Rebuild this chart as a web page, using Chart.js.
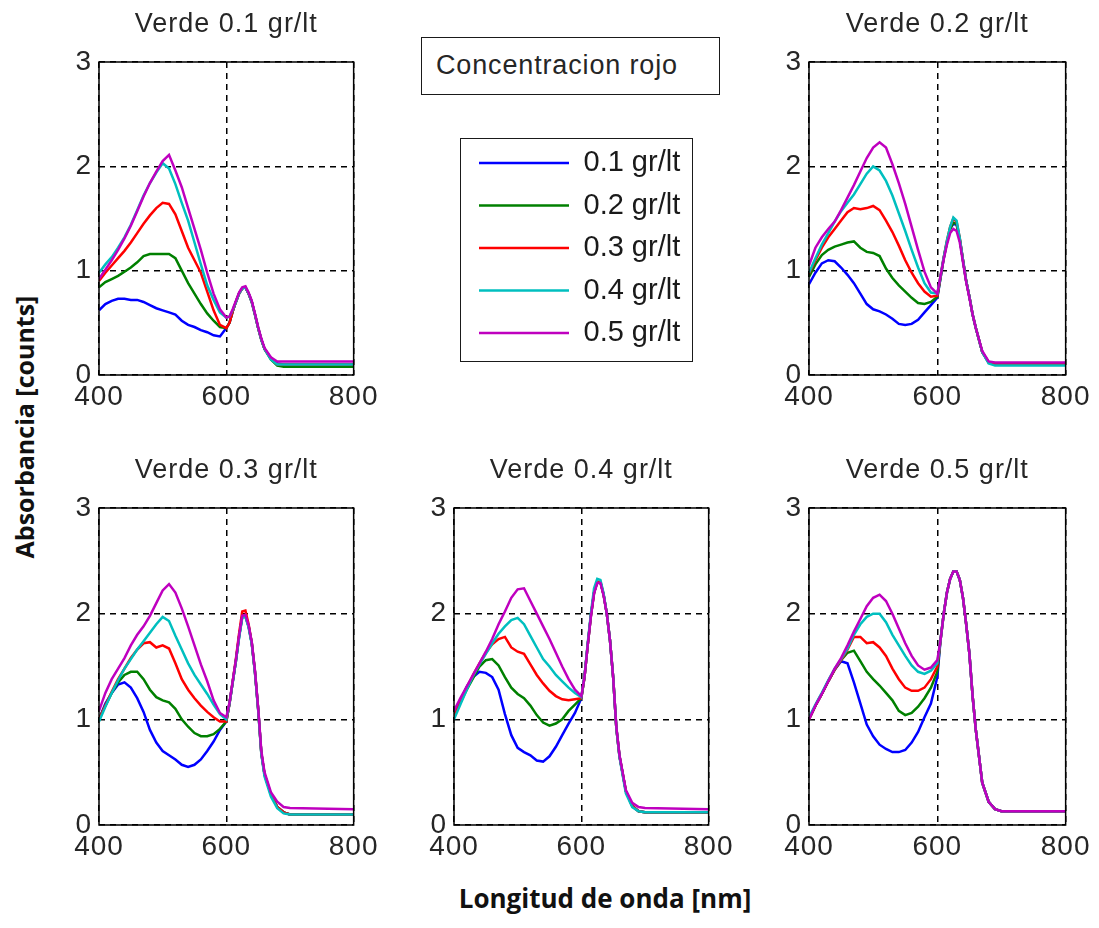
<!DOCTYPE html>
<html>
<head>
<meta charset="utf-8">
<title>Absorbancia verde / rojo</title>
<script src="https://cdn.jsdelivr.net/npm/chart.js@4.4.1/dist/chart.umd.min.js"></script>
<style>
  body { margin: 0; background: #fff; width: 1099px; height: 928px; position: relative; overflow: hidden; }
  canvas { position: absolute; }
  .frame { position: absolute; box-sizing: border-box; border: 1.5px solid #1a1a1a; }
  #boxTitle { left: 421px; top: 37px; width: 299px; height: 58px; padding-left: 14px;
    font: 27px "Liberation Sans", Arial, sans-serif; letter-spacing: 0.85px; color: #262626; line-height: 55px; }
  #legendFrame { left: 460px; top: 138px; width: 233px; height: 224px; }
  .axisLabel { position: absolute; font: bold 26px "Open Sans", sans-serif; color: #111; white-space: nowrap; }
  #xLabel { left: 605px; top: 898px; transform: translate(-50%, -50%); }
  #yLabel { left: 24px; top: 427px; transform: translate(-50%, -50%) rotate(-90deg); font-size: 25px; }
</style>
</head>
<body>
<canvas id="verde1" width="328" height="415" style="left:54px;top:0px"></canvas>
<canvas id="verde2" width="330" height="415" style="left:764px;top:0px"></canvas>
<canvas id="verde3" width="328" height="419" style="left:54px;top:446px"></canvas>
<canvas id="verde4" width="328" height="419" style="left:409px;top:446px"></canvas>
<canvas id="verde5" width="330" height="419" style="left:764px;top:446px"></canvas>
<div id="boxTitle" class="frame">Concentracion rojo</div>
<div id="legendFrame" class="frame"></div>
<canvas id="leyenda" width="233" height="240" style="left:460px;top:135px"></canvas>
<div id="yLabel" class="axisLabel">Absorbancia [counts]</div>
<div id="xLabel" class="axisLabel">Longitud de onda [nm]</div>

<script>
// wavelength samples [nm]
const wavelengths = [400, 410, 420, 430, 440, 450, 460, 470, 480, 490, 500, 510, 520, 530, 540, 550, 560, 570, 580, 590, 600,
  605, 610, 615, 620, 625, 630, 635, 640, 645, 650, 655, 660, 670, 680, 690, 700, 800];

const rojoLabels = ['0.1 gr/lt', '0.2 gr/lt', '0.3 gr/lt', '0.4 gr/lt', '0.5 gr/lt'];
const rojoColors = ['#0000ff', '#008000', '#ff0000', '#00bfbf', '#bf00bf'];
const panelTitles = ['Verde 0.1 gr/lt', 'Verde 0.2 gr/lt', 'Verde 0.3 gr/lt', 'Verde 0.4 gr/lt', 'Verde 0.5 gr/lt'];

// absorbance per red concentration (rows 0.1 .. 0.5 gr/lt), one array per green concentration
const verde01 = [
  [.62, .68, .71, .73, .73, .72, .72, .70, .67, .64, .62, .60, .58, .52, .48, .46, .43, .41, .38, .37, .45,
    .50, .61, .70, .78, .83, .84, .78, .70, .58, .45, .34, .25, .16, .11, .10, .10, .10],
  [.84, .89, .92, .95, .99, 1.03, 1.08, 1.14, 1.16, 1.16, 1.16, 1.16, 1.12, 1.00, .88, .78, .68, .59, .52, .46, .45,
    .50, .61, .70, .78, .83, .84, .78, .70, .58, .45, .34, .25, .15, .09, .08, .08, .08],
  [.90, .98, 1.05, 1.12, 1.19, 1.27, 1.36, 1.45, 1.53, 1.60, 1.65, 1.64, 1.54, 1.38, 1.22, 1.10, .98, .80, .62, .48, .45,
    .50, .61, .70, .78, .83, .84, .78, .70, .58, .45, .34, .25, .16, .10, .10, .10, .10],
  [.98, 1.06, 1.13, 1.22, 1.32, 1.44, 1.58, 1.72, 1.84, 1.94, 2.03, 1.98, 1.83, 1.65, 1.48, 1.27, 1.06, .86, .72, .60, .55,
    .56, .62, .70, .78, .83, .84, .78, .70, .58, .45, .34, .25, .15, .10, .10, .10, .10],
  [.92, 1.01, 1.10, 1.20, 1.31, 1.43, 1.57, 1.71, 1.84, 1.95, 2.05, 2.11, 1.96, 1.80, 1.60, 1.40, 1.20, .98, .78, .63, .55,
    .56, .63, .71, .79, .84, .85, .79, .71, .59, .46, .35, .26, .17, .13, .13, .13, .13]
];

const verde02 = [
  [.87, .98, 1.07, 1.10, 1.09, 1.03, .96, .88, .78, .68, .63, .61, .58, .54, .49, .48, .49, .53, .60, .67, .74,
    .93, 1.12, 1.27, 1.40, 1.45, 1.44, 1.30, 1.10, .90, .75, .58, .45, .22, .12, .10, .10, .10],
  [.94, 1.06, 1.15, 1.20, 1.23, 1.25, 1.27, 1.28, 1.22, 1.18, 1.17, 1.14, 1.02, .93, .86, .80, .74, .69, .68, .70, .75,
    .93, 1.12, 1.27, 1.40, 1.46, 1.45, 1.30, 1.10, .90, .75, .58, .45, .22, .12, .10, .10, .10],
  [.97, 1.10, 1.22, 1.32, 1.40, 1.48, 1.56, 1.60, 1.59, 1.60, 1.62, 1.58, 1.48, 1.37, 1.24, 1.10, .98, .88, .80, .75, .76,
    .95, 1.13, 1.29, 1.42, 1.50, 1.47, 1.31, 1.10, .90, .75, .58, .45, .22, .12, .10, .10, .10],
  [.98, 1.12, 1.25, 1.36, 1.47, 1.57, 1.65, 1.73, 1.83, 1.93, 2.00, 1.96, 1.86, 1.72, 1.55, 1.38, 1.20, 1.03, .88, .79, .78,
    .95, 1.13, 1.29, 1.42, 1.51, 1.48, 1.31, 1.10, .90, .75, .58, .45, .22, .11, .09, .09, .09],
  [1.05, 1.22, 1.32, 1.40, 1.47, 1.58, 1.70, 1.82, 1.95, 2.08, 2.18, 2.23, 2.18, 2.02, 1.84, 1.64, 1.42, 1.20, .99, .84, .78,
    .95, 1.11, 1.25, 1.36, 1.40, 1.38, 1.27, 1.08, .89, .74, .58, .45, .23, .13, .12, .12, .12]
];

const verde03 = [
  [1.00, 1.15, 1.25, 1.33, 1.35, 1.30, 1.20, 1.07, .90, .78, .70, .66, .62, .57, .55, .57, .62, .70, .79, .90, .98,
    1.15, 1.35, 1.55, 1.78, 1.97, 1.98, 1.88, 1.72, 1.45, 1.10, .68, .48, .29, .17, .12, .10, .10],
  [1.00, 1.13, 1.25, 1.35, 1.42, 1.45, 1.45, 1.38, 1.28, 1.21, 1.18, 1.16, 1.10, 1.00, .93, .87, .84, .84, .86, .91, .98,
    1.15, 1.35, 1.55, 1.78, 1.97, 1.98, 1.88, 1.72, 1.45, 1.10, .68, .48, .29, .17, .12, .10, .10],
  [1.00, 1.13, 1.26, 1.38, 1.48, 1.58, 1.66, 1.72, 1.73, 1.68, 1.70, 1.67, 1.53, 1.38, 1.28, 1.20, 1.13, 1.07, 1.02, .98, .98,
    1.15, 1.36, 1.57, 1.81, 2.02, 2.03, 1.90, 1.72, 1.45, 1.10, .68, .48, .29, .17, .12, .10, .10],
  [.98, 1.12, 1.25, 1.37, 1.48, 1.57, 1.66, 1.74, 1.82, 1.90, 1.97, 1.93, 1.79, 1.66, 1.53, 1.42, 1.33, 1.24, 1.14, 1.05, 1.00,
    1.15, 1.35, 1.55, 1.77, 1.96, 1.97, 1.87, 1.71, 1.44, 1.09, .67, .46, .27, .16, .11, .10, .10],
  [1.08, 1.25, 1.38, 1.48, 1.58, 1.70, 1.80, 1.88, 1.98, 2.10, 2.22, 2.28, 2.20, 2.05, 1.88, 1.70, 1.52, 1.36, 1.18, 1.06, 1.02,
    1.16, 1.36, 1.56, 1.79, 1.98, 1.99, 1.89, 1.73, 1.46, 1.11, .70, .50, .31, .22, .17, .16, .15]
];

const verde04 = [
  [1.03, 1.18, 1.31, 1.40, 1.45, 1.44, 1.40, 1.28, 1.05, .85, .73, .69, .66, .61, .60, .65, .74, .85, .96, 1.06, 1.20,
    1.40, 1.70, 1.98, 2.20, 2.30, 2.30, 2.18, 2.00, 1.75, 1.40, .92, .65, .32, .18, .13, .12, .12],
  [1.03, 1.16, 1.28, 1.39, 1.50, 1.56, 1.57, 1.51, 1.40, 1.30, 1.24, 1.20, 1.13, 1.04, .97, .94, .96, 1.00, 1.08, 1.14, 1.20,
    1.40, 1.70, 1.98, 2.20, 2.30, 2.30, 2.18, 2.00, 1.75, 1.40, .92, .65, .32, .18, .13, .12, .12],
  [1.03, 1.16, 1.30, 1.42, 1.53, 1.63, 1.71, 1.76, 1.78, 1.68, 1.64, 1.62, 1.52, 1.42, 1.34, 1.27, 1.22, 1.19, 1.18, 1.19, 1.20,
    1.40, 1.70, 1.98, 2.20, 2.30, 2.30, 2.18, 2.00, 1.75, 1.40, .92, .65, .32, .18, .13, .12, .12],
  [1.00, 1.14, 1.28, 1.41, 1.52, 1.62, 1.72, 1.81, 1.88, 1.94, 1.96, 1.90, 1.79, 1.68, 1.57, 1.50, 1.42, 1.36, 1.30, 1.25, 1.21,
    1.41, 1.72, 2.00, 2.24, 2.33, 2.32, 2.19, 2.00, 1.75, 1.40, .92, .64, .30, .17, .13, .12, .12],
  [1.08, 1.20, 1.31, 1.42, 1.53, 1.64, 1.76, 1.90, 2.02, 2.15, 2.23, 2.24, 2.12, 2.00, 1.88, 1.76, 1.63, 1.50, 1.38, 1.28, 1.22,
    1.40, 1.70, 1.97, 2.19, 2.29, 2.29, 2.17, 2.00, 1.75, 1.40, .93, .66, .33, .21, .17, .16, .15]
];

const verde05 = [
  [1.00, 1.13, 1.24, 1.36, 1.47, 1.55, 1.53, 1.35, 1.15, .95, .84, .76, .72, .69, .69, .71, .78, .88, 1.02, 1.15, 1.40,
    1.75, 2.00, 2.20, 2.33, 2.40, 2.40, 2.32, 2.15, 1.90, 1.62, 1.22, .90, .40, .22, .15, .13, .13],
  [1.00, 1.13, 1.24, 1.36, 1.47, 1.56, 1.63, 1.65, 1.55, 1.45, 1.38, 1.32, 1.25, 1.18, 1.08, 1.04, 1.06, 1.12, 1.20, 1.30, 1.45,
    1.75, 2.00, 2.20, 2.33, 2.40, 2.40, 2.32, 2.15, 1.90, 1.62, 1.22, .90, .40, .22, .15, .13, .13],
  [1.00, 1.13, 1.24, 1.36, 1.47, 1.56, 1.66, 1.78, 1.78, 1.72, 1.73, 1.68, 1.60, 1.48, 1.38, 1.30, 1.27, 1.27, 1.30, 1.38, 1.50,
    1.75, 2.00, 2.20, 2.33, 2.40, 2.40, 2.32, 2.15, 1.90, 1.62, 1.22, .90, .40, .22, .15, .13, .13],
  [1.02, 1.14, 1.25, 1.37, 1.48, 1.57, 1.67, 1.80, 1.90, 1.97, 2.00, 2.00, 1.92, 1.80, 1.70, 1.60, 1.51, 1.45, 1.43, 1.46, 1.53,
    1.75, 2.00, 2.20, 2.33, 2.40, 2.40, 2.32, 2.15, 1.90, 1.62, 1.22, .90, .40, .22, .15, .13, .13],
  [1.00, 1.13, 1.24, 1.36, 1.48, 1.58, 1.70, 1.83, 1.95, 2.07, 2.15, 2.18, 2.12, 2.00, 1.86, 1.72, 1.60, 1.51, 1.47, 1.49, 1.56,
    1.75, 2.00, 2.20, 2.33, 2.40, 2.40, 2.32, 2.15, 1.90, 1.62, 1.22, .90, .40, .22, .15, .13, .13]
];

const textFont = '"Liberation Sans", Arial, sans-serif';
const textColor = '#262626';

// closed axes box like a matlab plot
const boxFrame = {
  id: 'boxFrame',
  afterDatasetsDraw(chart) {
    const {ctx, chartArea: a} = chart;
    ctx.save();
    ctx.setLineDash([]);
    ctx.strokeStyle = '#000';
    ctx.lineWidth = 1.5;
    ctx.strokeRect(a.left, a.top, a.right - a.left, a.bottom - a.top);
    ctx.restore();
  }
};

// a bit of tracking on the titles
const tracking = {
  id: 'tracking',
  beforeDraw(chart) { chart.ctx.letterSpacing = '1px'; }
};

function axis(min, max, step, pad, fit) {
  return {
    type: 'linear', min, max,
    afterFit: fit,
    ticks: { stepSize: step, padding: pad, maxRotation: 0, color: textColor, font: { family: textFont, size: 28 } },
    grid: { color: '#000', lineWidth: 1.5, drawTicks: false },
    border: { display: false, dash: [6, 5] }
  };
}

function makePanel(id, title, rows) {
  const datasets = rows.map((vals, k) => ({
    label: rojoLabels[k],
    data: wavelengths.map((x, i) => ({ x, y: vals[i] })),
    borderColor: rojoColors[k],
    borderWidth: 2.5,
    pointRadius: 0,
    tension: 0,
    order: rows.length - k
  }));
  new Chart(document.getElementById(id).getContext('2d'), {
    type: 'line',
    data: { datasets },
    plugins: [boxFrame, tracking],
    options: {
      responsive: false,
      animation: false,
      events: [],
      layout: { padding: { left: 0, right: 25, top: 0, bottom: 0 } },
      plugins: {
        legend: { display: false },
        tooltip: { enabled: false },
        title: {
          display: true, text: title, fullSize: false, color: textColor,
          font: { family: textFont, size: 27, weight: 'normal' },
          padding: { top: 8.4, bottom: 21.2 }
        }
      },
      scales: {
        x: axis(400, 800, 200, 5, s => { s.height = 40; }),
        y: axis(0, 3, 1, 7, s => { s.width = 45; })
      }
    }
  });
}

makePanel('verde1', panelTitles[0], verde01);
makePanel('verde2', panelTitles[1], verde02);
makePanel('verde3', panelTitles[2], verde03);
makePanel('verde4', panelTitles[3], verde04);
makePanel('verde5', panelTitles[4], verde05);

// legend for the red concentrations, on its own empty chart
new Chart(document.getElementById('leyenda').getContext('2d'), {
  type: 'line',
  data: {
    datasets: rojoLabels.map((label, k) => ({
      label, data: [], borderColor: rojoColors[k], backgroundColor: rojoColors[k], borderWidth: 2.5
    }))
  },
  options: {
    responsive: false,
    animation: false,
    events: [],
    layout: { padding: { left: 5.5, top: 0 } },
    scales: { x: { display: false }, y: { display: false } },
    plugins: {
      tooltip: { enabled: false },
      legend: {
        position: 'left',
        align: 'start',
        maxWidth: 226,
        labels: {
          usePointStyle: true, pointStyle: 'line', pointStyleWidth: 90,
          padding: 13.5, color: '#1a1a1a',
          font: { family: textFont, size: 29 }
        }
      }
    }
  }
});
</script>
</body>
</html>
